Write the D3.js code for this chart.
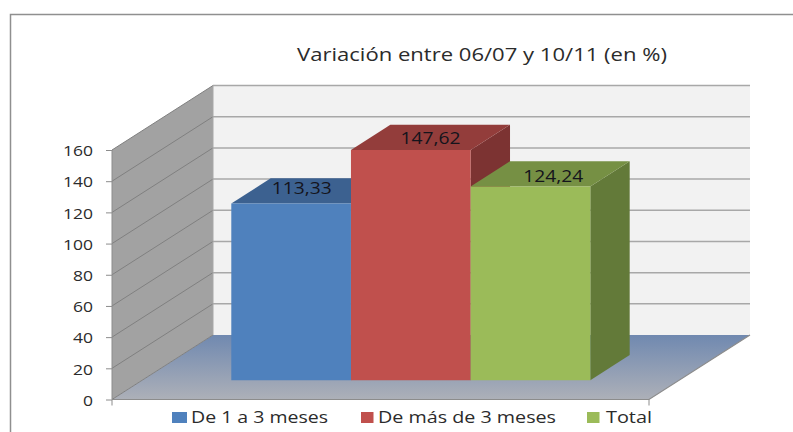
<!DOCTYPE html>
<html lang="es">
	<head>
		<meta charset="utf-8">
		<title>Variación entre 06/07 y 10/11</title>
		<script type="text/javascript" src="https://d3js.org/d3.v7.min.js"></script>
		<style type="text/css">
			html, body { margin: 0; padding: 0; background: #fff; }
			svg { display: block; }
			text { font-family: "Open Sans", sans-serif; fill: #2b2b2b; }
		</style>
	</head>
	<body>
		<script type="text/javascript">

			//Data
			var titleText = "Variación entre 06/07 y 10/11 (en %)";
			var seriesNames = ["De 1 a 3 meses", "De más de 3 meses", "Total"];
			var seriesValues = [113.33, 147.62, 124.24];
			var valueLabels = ["113,33", "147,62", "124,24"];
			var tickValues = [0, 20, 40, 60, 80, 100, 120, 140, 160];
			var frontColors = ["#4f81bd", "#c0504d", "#9bbb59"];
			var topColors = ["#3c6190", "#933d3b", "#769044"];
			var sideColors = ["#335379", "#7c3332", "#637a39"];

			//Width and height
			var w = 793;
			var h = 432;

			//Scales: y is the value on the front left edge, x runs along the floor
			var y = d3.scaleLinear().domain([0, 160]).range([399.5, 150]);
			var x = d3.scaleBand().domain(seriesNames).range([201, 560]);
			var floorLeft = 112, floorRight = 649;
			var depthX = 101, depthY = -64.5;

			//Project a floor position, value and depth (0 front, 1 back) to the screen
			function pt(px, value, depth) {
				return [px + depth * depthX, y(value) + depth * depthY];
			}
			function poly(points) {
				return "M" + points.map(function(p) { return p.join(","); }).join("L") + "Z";
			}

			//Create SVG element
			var svg = d3.select("body")
				.append("svg")
				.attr("width", w)
				.attr("height", h);

			var defs = svg.append("defs");
			var floorGrad = defs.append("linearGradient").attr("id", "floorGrad")
				.attr("x1", 0).attr("y1", 0).attr("x2", 0).attr("y2", 1);
			floorGrad.append("stop").attr("offset", 0).attr("stop-color", "#7089b0");
			floorGrad.append("stop").attr("offset", 1).attr("stop-color", "#adb0b8");

			//Outer frame, only top and left are in the picture
			svg.append("path")
				.attr("d", "M" + w + ",14.5H10.5V" + h)
				.attr("fill", "none")
				.attr("stroke", "#8f8f8f")
				.attr("stroke-width", 1.5);

			//Title, the reference is stretched sideways so the width is forced
			svg.append("text")
				.attr("x", 297)
				.attr("y", 61)
				.attr("font-size", 18.2)
				.attr("textLength", 370)
				.attr("lengthAdjust", "spacingAndGlyphs")
				.text(titleText);

			//Back wall
			svg.append("path")
				.attr("d", poly([pt(floorLeft, 0, 1), pt(floorLeft, 160, 1), pt(floorRight, 160, 1), pt(floorRight, 0, 1)]))
				.attr("fill", "#f2f2f2");

			//Left wall
			svg.append("path")
				.attr("d", poly([pt(floorLeft, 0, 0), pt(floorLeft, 160, 0), pt(floorLeft, 160, 1), pt(floorLeft, 0, 1)]))
				.attr("fill", "#a2a2a2");

			//Floor
			svg.append("path")
				.attr("d", poly([pt(floorLeft, 0, 0), pt(floorLeft, 0, 1), pt(floorRight, 0, 1), pt(floorRight, 0, 0)]))
				.attr("fill", "url(#floorGrad)");

			//Gridlines on the back wall
			svg.selectAll("path.grid")
				.data(tickValues.slice(1))
				.enter()
				.append("path")
				.attr("class", "grid")
				.attr("d", function(d) { return "M" + pt(floorLeft, d, 1) + "L" + pt(floorRight, d, 1); })
				.attr("fill", "none")
				.attr("stroke", "#a8a8a8")
				.attr("stroke-width", 1.5);

			//Gridlines on the left wall
			svg.selectAll("path.wallgrid")
				.data(tickValues)
				.enter()
				.append("path")
				.attr("class", "wallgrid")
				.attr("d", function(d) { return "M" + pt(floorLeft, d, 0) + "L" + pt(floorLeft, d, 1); })
				.attr("fill", "none")
				.attr("stroke", "#808080")
				.attr("stroke-width", 1);

			//Back edge of the left wall
			svg.append("path")
				.attr("d", "M" + pt(floorLeft, 0, 1) + "L" + pt(floorLeft, 160, 1))
				.attr("stroke", "#a8a8a8")
				.attr("stroke-width", 1);

			//Front edge of the floor and right edge
			svg.append("path")
				.attr("d", "M" + pt(floorLeft, 0, 0) + "L" + pt(floorRight, 0, 0) + "L" + pt(floorRight, 0, 1))
				.attr("fill", "none")
				.attr("stroke", "#8c8c8c")
				.attr("stroke-width", 1.2);

			//Left edge of the wall
			svg.append("path")
				.attr("d", "M" + pt(floorLeft, 0, 0) + "L" + pt(floorLeft, 160, 0))
				.attr("stroke", "#8c8c8c")
				.attr("stroke-width", 1);

			//Value axis
			var axis = svg.append("g")
				.attr("transform", "translate(" + floorLeft + ",0)")
				.call(d3.axisLeft(y).tickValues(tickValues).tickSize(6).tickPadding(13));
			axis.select(".domain").remove();
			axis.selectAll("line").attr("stroke", "#8c8c8c");
			axis.selectAll("text")
				.attr("font-size", 15)
				.attr("font-family", '"Open Sans", sans-serif')
				.attr("dy", "0.38em")
				.attr("textLength", function(d) { return String(d).length * 10; })
				.attr("lengthAdjust", "spacingAndGlyphs")
				.style("fill", "#2b2b2b");

			//Small tick under the floor corners
			svg.selectAll("line.xtick")
				.data([floorLeft, floorRight])
				.enter()
				.append("line")
				.attr("class", "xtick")
				.attr("x1", function(d) { return d; })
				.attr("x2", function(d) { return d; })
				.attr("y1", y(0))
				.attr("y2", y(0) + 6)
				.attr("stroke", "#8c8c8c");

			//Bars
			var depth0 = 0.3, depth1 = 0.69;
			var bars = svg.selectAll("g.bar")
				.data(seriesNames)
				.enter()
				.append("g")
				.attr("class", "bar");

			bars.append("path")
				.attr("fill", function(d, i) { return sideColors[i]; })
				.attr("d", function(d, i) {
					var r = x(d) + x.bandwidth(), v = seriesValues[i];
					return poly([pt(r, 0, depth0), pt(r, v, depth0), pt(r, v, depth1), pt(r, 0, depth1)]);
				});
			bars.append("path")
				.attr("fill", function(d, i) { return topColors[i]; })
				.attr("d", function(d, i) {
					var l = x(d), r = l + x.bandwidth(), v = seriesValues[i];
					return poly([pt(l, v, depth0), pt(l, v, depth1), pt(r, v, depth1), pt(r, v, depth0)]);
				});
			bars.append("path")
				.attr("fill", function(d, i) { return frontColors[i]; })
				.attr("d", function(d, i) {
					var l = x(d), r = l + x.bandwidth(), v = seriesValues[i];
					return poly([pt(l, 0, depth0), pt(l, v, depth0), pt(r, v, depth0), pt(r, 0, depth0)]);
				});

			//Value labels sit on the bar tops, each nudged by hand like the original
			var labelDx = [41, 50, 53];
			var labelDy = [-28.5, -25, -24];
			bars.append("text")
				.attr("x", function(d, i) { return x(d) + x.bandwidth() / 2 + labelDx[i] - 30; })
				.attr("y", function(d, i) { return y(seriesValues[i]) + labelDy[i]; })
				.attr("font-size", 16)
				.attr("textLength", 60)
				.attr("lengthAdjust", "spacingAndGlyphs")
				.style("fill", "#14141c")
				.text(function(d, i) { return valueLabels[i]; });

			//Legend
			var legendX = [172, 361, 587];
			var legendW = [15, 12.5, 12.5];
			var legendTextX = [191, 378, 606];
			var legendTextW = [137, 178, 46];
			var legend = svg.selectAll("g.legend")
				.data(seriesNames)
				.enter()
				.append("g")
				.attr("class", "legend");
			legend.append("rect")
				.attr("x", function(d, i) { return legendX[i]; })
				.attr("y", 412)
				.attr("width", function(d, i) { return legendW[i]; })
				.attr("height", 11)
				.attr("fill", function(d, i) { return frontColors[i]; });
			legend.append("text")
				.attr("x", function(d, i) { return legendTextX[i]; })
				.attr("y", 422.5)
				.attr("font-size", 16)
				.attr("textLength", function(d, i) { return legendTextW[i]; })
				.attr("lengthAdjust", "spacingAndGlyphs")
				.text(function(d) { return d; });

		</script>
	</body>
</html>
